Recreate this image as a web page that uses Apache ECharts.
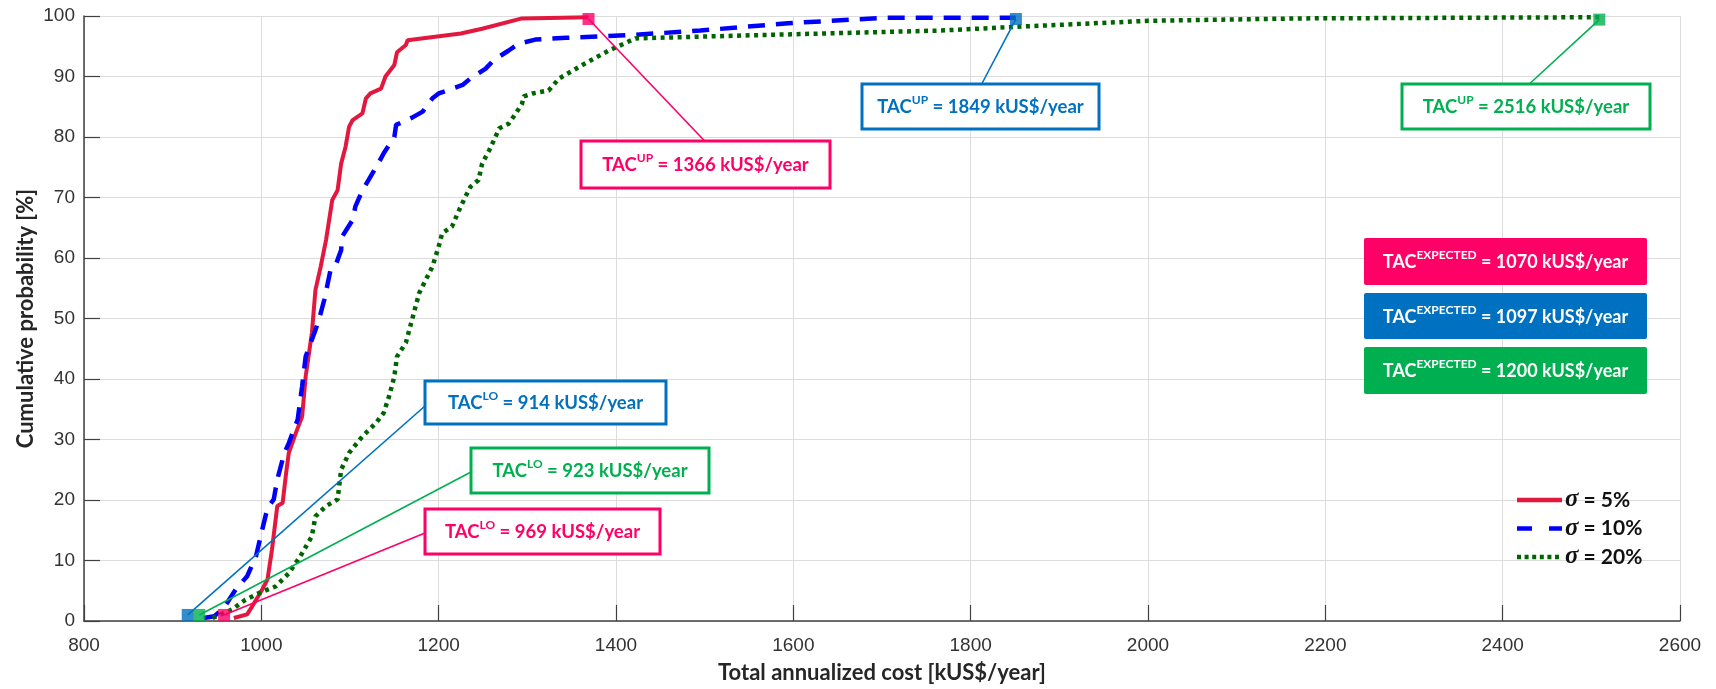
<!DOCTYPE html>
<html><head><meta charset="utf-8">
<script src="https://cdn.jsdelivr.net/npm/echarts@6/dist/echarts.min.js"></script>
<style>html,body{margin:0;padding:0;background:#fff}#c{width:1716px;height:689px}</style>
</head><body><div id="c"></div>
<script>
// ---------------- data ----------------
const seriesNames = ['σ = 5%', 'σ = 10%', 'σ = 20%'];
const redCost  = [969,984,990,997,1001,1007,1012,1018,1024,1028,1031,1039,1046,1050,1057,1061,1067,1073,1080,1086,1090,1095,1099,1103,1114,1118,1123,1135,1140,1150,1153,1163,1165,1225,1249,1294,1369];
const redProb  = [0.5,1.1,2.5,4.2,5.2,6.9,11.8,19,19.5,24.5,27.8,31.1,33.8,40.4,47.6,54.7,58.6,63,69.6,71.2,75.6,78.4,81.7,82.8,83.9,86.4,87.2,88,90,91.9,94,95.2,96,97.1,97.9,99.6,99.8];
const blueCost = [935,947,958,971,984,994,1001,1007,1014,1018,1026,1031,1041,1046,1050,1061,1065,1071,1078,1084,1090,1091,1103,1106,1114,1121,1131,1138,1150,1152,1170,1182,1193,1200,1227,1236,1253,1262,1279,1290,1309,1344,1422,1495,1594,1702,1851];
const blueProb = [0.5,0.8,2.2,5.2,7.4,10.7,15.1,18.7,20.1,23.4,27.8,29.4,33.3,38.8,43.7,48.1,49.8,53.1,58,58.9,61.3,63.5,66.3,68.5,71.2,72.9,75.4,77.3,80,82,83.2,84.2,86.4,87.2,88.6,89.7,91.3,92.7,94.3,95.4,96.1,96.4,96.9,97.6,98.8,99.7,99.7];
const greenCost = [945,967,982,997,1016,1031,1044,1057,1061,1073,1086,1090,1099,1114,1129,1138,1144,1150,1153,1163,1170,1178,1193,1200,1204,1215,1223,1230,1236,1245,1249,1257,1264,1268,1279,1287,1294,1296,1306,1324,1336,1362,1392,1422,1551,1767,1849,2000,2170,2509];
const greenProb = [0.5,1.9,3.5,4.6,5.7,7.9,10.7,14,17.3,19,20.1,25,27.8,30.5,32.7,34.4,37.1,40.4,43.7,46,49.8,54.2,58.6,61.9,64.1,65.2,67.9,70.1,71.8,72.9,75.6,77.8,80,81.4,82.2,83.9,85.5,86.7,87.2,87.7,89.7,91.9,94.3,96.3,96.8,97.6,98.2,99.2,99.6,99.8];

// marker points (red, blue, green)
const loCost = [958, 917, 930];
const loProb = [1, 1, 1];
const upCost = [1369, 1851, 2509];
const upProb = [99.5, 99.5, 99.4];
const loValues = [969, 914, 923];
const upValues = [1366, 1849, 2516];
const expValues = [1070, 1097, 1200];

// ---------------- styles / layout ----------------
const lineColors = ['#e2183f', '#0000ff', '#006400'];
const markColors = ['#ff0066', '#0070c0', '#00b050'];
const seriesDash = [null, [17, 11], [4, 4.5]];
const legendDash = [null, [15, 17], [4, 3.6]];
const TXT = "Lato, 'Open Sans', sans-serif";
const NUM = "'Liberation Sans', Arial, sans-serif";

// boxes: [x, y, w, h, anchorX, anchorY]
const upBoxes = [[581,141,249,47, 704.7,141],[862,84,237,45, 981.7,84],[1402,84,248,45, 1529.3,84]];
const loBoxes = [[425,509,235,45, 425,533],[425,381,241,43, 425,406],[471,448,238,45, 471,472]];
const expBoxes = [[1364,238,283,47],[1364,293,283,46],[1364,347,283,47]];
const legendRows = [500, 528.5, 557];

const chart = echarts.init(document.getElementById('c'), null, {renderer: 'canvas'});

function pairs(xs, ys) { return xs.map((x, i) => [x, ys[i]]); }

const axisCol = '#404040';
chart.setOption({
  animation: false,
  backgroundColor: '#fff',
  grid: {left: 84, right: 36, top: 16, bottom: 67},
  xAxis: {
    type: 'value', min: 800, max: 2600, interval: 200,
    name: 'Total annualized cost [kUS$/year]', nameLocation: 'middle', nameGap: 41, nameMoveOverlap: false,
    nameTextStyle: {fontFamily: TXT, fontWeight: 'bold', fontSize: 22, color: '#262626'},
    axisLine: {lineStyle: {color: axisCol, width: 1.5}},
    axisTick: {inside: true, length: 16, lineStyle: {color: axisCol, width: 1.2}},
    axisLabel: {fontFamily: NUM, fontSize: 19, color: '#333', margin: 15, formatter: v => String(v)},
    splitLine: {show: true, lineStyle: {color: '#dcdcdc', width: 1}}
  },
  yAxis: {
    type: 'value', min: 0, max: 100, interval: 10,
    name: 'Cumulative probability [%]', nameLocation: 'middle', nameGap: 47, nameRotate: 90, nameMoveOverlap: false,
    nameTextStyle: {fontFamily: TXT, fontWeight: 'bold', fontSize: 22, color: '#262626'},
    axisLine: {show: true, lineStyle: {color: axisCol, width: 1.5}},
    axisTick: {show: true, inside: true, length: 16, lineStyle: {color: axisCol, width: 1.2}},
    axisLabel: {fontFamily: NUM, fontSize: 19, color: '#333', margin: 9, formatter: v => String(v)},
    splitLine: {show: true, lineStyle: {color: '#dcdcdc', width: 1}}
  },
  legend: {show: false, data: seriesNames},
  series: [
    {name: seriesNames[0], type: 'line', symbol: 'none', data: pairs(redCost, redProb),
     lineStyle: {color: lineColors[0], width: 4}, itemStyle: {color: lineColors[0]}, z: 3},
    {name: seriesNames[1], type: 'line', symbol: 'none', data: pairs(blueCost, blueProb),
     lineStyle: {color: lineColors[1], width: 4.5, type: seriesDash[1]}, itemStyle: {color: lineColors[1]}, z: 3},
    {name: seriesNames[2], type: 'line', symbol: 'none', data: pairs(greenCost, greenProb),
     lineStyle: {color: lineColors[2], width: 4.5, type: seriesDash[2]}, itemStyle: {color: lineColors[2]}, z: 3},
    {name: 'markers', type: 'scatter', symbol: 'rect', symbolSize: 12, z: 6,
     data: loCost.map((x, i) => ({value: [x, loProb[i]], itemStyle: {color: markColors[i]}}))
       .concat(upCost.map((x, i) => ({value: [x, upProb[i]], itemStyle: {color: markColors[i]}})))}
  ]
});

function richStyle(color, fs) {
  return {
    m: {fill: color, fontSize: fs, fontWeight: 'bold', fontFamily: TXT, lineHeight: 26},
    s: {fill: color, fontSize: Math.round(fs * 0.66), fontWeight: 'bold', fontFamily: TXT, lineHeight: 16, verticalAlign: 'top'}
  };
}

const g = [];
function addBox(b, color, sup, val, filled, fs) {
  g.push({type: 'rect', z: 20, shape: {x: b[0], y: b[1], width: b[2], height: b[3], r: filled ? 2 : 0},
          style: filled ? {fill: color, stroke: null} : {fill: '#fff', stroke: color, lineWidth: 3}});
  const tc = filled ? '#fff' : color;
  g.push({type: 'text', z: 21, style: {
    x: b[0] + b[2] / 2, y: b[1] + b[3] / 2 + 1, align: 'center', verticalAlign: 'middle',
    text: '{m|TAC}{s|' + sup + '}{m| = ' + val + ' kUS$/year}', rich: richStyle(tc, fs)}});
}
function addLeader(cost, prob, ax, ay, color) {
  const p = chart.convertToPixel({gridIndex: 0}, [cost, prob]);
  g.push({type: 'line', z: 5, shape: {x1: p[0], y1: p[1], x2: ax, y2: ay}, style: {stroke: color, lineWidth: 1.6}});
}
for (let i = 0; i < 3; i++) {
  addLeader(upCost[i], upProb[i], upBoxes[i][4], upBoxes[i][5], markColors[i]);
  addLeader(loCost[i], loProb[i], loBoxes[i][4], loBoxes[i][5], markColors[i]);
}
for (let i = 0; i < 3; i++) {
  addBox(upBoxes[i], markColors[i], 'UP', upValues[i], false, 18.5);
  addBox(loBoxes[i], markColors[i], 'LO', loValues[i], false, 18.5);
  addBox(expBoxes[i], markColors[i], 'EXPECTED', expValues[i], true, 18);
}
// legend drawn as graphics
for (let i = 0; i < 3; i++) {
  const y = legendRows[i];
  g.push({type: 'line', z: 22, shape: {x1: 1517, y1: y, x2: 1562, y2: y},
          style: {stroke: lineColors[i], lineWidth: 4.5, lineDash: legendDash[i]}});
  g.push({type: 'text', z: 22, style: {x: 1565, y: y, align: 'left', verticalAlign: 'middle',
    text: '{s|σ}{t|' + seriesNames[i].slice(1) + '}',
    rich: {
      s: {fill: '#111', fontFamily: "'Liberation Serif', serif", fontStyle: 'italic', fontWeight: 'bold', fontSize: 25},
      t: {fill: '#111', fontFamily: TXT, fontWeight: 'bold', fontSize: 21}
    }}});
}
chart.setOption({graphic: g});
</script>
</body></html>
